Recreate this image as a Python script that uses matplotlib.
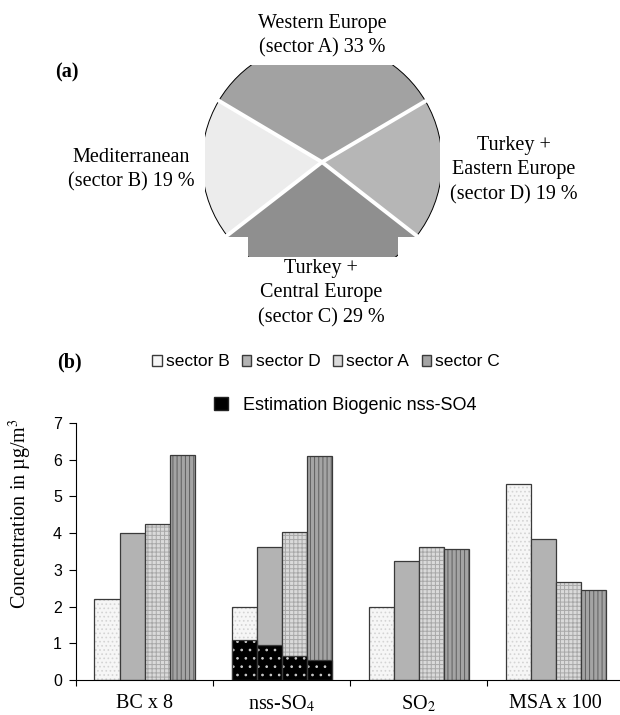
import numpy as np
import matplotlib
matplotlib.use('Agg')
import matplotlib.pyplot as plt
from matplotlib.patches import Patch, Rectangle

# pie (a): air mass sectors
pie_labels = ['Western Europe\n(sector A) 33 %',
              'Mediterranean\n(sector B) 19 %',
              'Turkey +\nCentral Europe\n(sector C) 29 %',
              'Turkey +\nEastern Europe\n(sector D) 19 %']
pie_shares = [33, 19, 29, 19]
pie_colors = ['#a2a2a2', '#ececec', '#8f8f8f', '#b6b6b6']

# bars (b): concentrations per sector
categories = ['BC x 8', 'nss-SO$_4$', 'SO$_2$', 'MSA x 100']
sector_b = [2.20, 2.00, 2.00, 5.33]
sector_d = [4.00, 3.62, 3.24, 3.85]
sector_a = [4.24, 4.04, 3.62, 2.67]
sector_c = [6.12, 6.10, 3.56, 2.45]
biogenic = [1.09, 0.94, 0.65, 0.55]   # nss-SO4 only, order B D A C

plt.rcParams['font.family'] = 'Liberation Serif'
plt.rcParams['mathtext.fontset'] = 'stix'
plt.rcParams['hatch.linewidth'] = 0.7

W, H = 620, 715
fig = plt.figure(figsize=(W / 100, H / 100), dpi=100)


def box(x0, y0, x1, y1):
    # pixel box (from top left) -> figure fraction rect
    return [x0 / W, 1 - y1 / H, (x1 - x0) / W, (y1 - y0) / H]


# ---- (a) pie ----
# axes box is the visible window of the pie (radius 1 = 120 px, centre 322,162)
ax_pie = fig.add_axes(box(205, 65, 440, 257))
wedges, _ = ax_pie.pie(pie_shares, colors=pie_colors, startangle=30.5,
                       counterclock=True,
                       wedgeprops=dict(edgecolor='black', linewidth=0.7))
for w in wedges:
    w.set_clip_on(True)
ax_pie.set_aspect('auto')
ax_pie.set_xlim(-0.975, 0.983)
ax_pie.set_ylim(-0.79, 0.808)
ax_pie.axis('off')

angles = np.deg2rad(30.5 + 3.6 * np.cumsum([0] + pie_shares[:-1]))
for a in angles:
    ax_pie.plot([0, 1.05 * np.cos(a)], [0, 1.05 * np.sin(a)],
                color='white', lw=2.8, solid_capstyle='butt')

# white corners under the bottom wedge
for x0, x1 in [(-1.0, -0.617), (0.633, 1.0)]:
    ax_pie.add_patch(Rectangle((x0, -1.0), x1 - x0, 0.375,
                               facecolor='white', edgecolor='none', zorder=5))

label_pos = [(322, 36), (131, 170), (321, 293), (514, 170)]
for (lx, ly), s in zip(label_pos, pie_labels):
    fig.text(lx / W, 1 - ly / H, s, ha='center', va='center',
             fontsize=14.5, linespacing=1.38)

fig.text(67 / W, 1 - 72 / H, '(a)', fontsize=14.5, fontweight='bold',
         ha='center', va='center')

# ---- (b) bars ----
ax = fig.add_axes(box(76, 423, 620, 680))
x = np.arange(len(categories))
bw = 0.1825
series = [(sector_b, '#f6f6f6', '....', '#d4d4d4'),
          (sector_d, '#b3b3b3', None, '#b3b3b3'),
          (sector_a, '#dadada', '++++', '#a8a8a8'),
          (sector_c, '#a4a4a4', '||||', '#5e5e5e')]
for i, (vals, face, hatch, hcol) in enumerate(series):
    pos = x + (i - 1.5) * bw
    ax.bar(pos, vals, bw, color=face, edgecolor=hcol, hatch=hatch, linewidth=0)
    ax.bar(pos, vals, bw, fill=False, edgecolor='#3a3a3a', linewidth=0.9)

pos = 1 + (np.arange(4) - 1.5) * bw
ax.bar(pos, biogenic, bw, color='black', edgecolor='#cccccc', hatch='..', linewidth=0)
ax.bar(pos, biogenic, bw, fill=False, edgecolor='#3a3a3a', linewidth=0.9)

ax.set_xlim(-0.5, 3.47)
ax.set_ylim(0, 7)
for sp in ['top', 'right']:
    ax.spines[sp].set_visible(False)
ax.set_yticks(range(8))
ax.tick_params(axis='y', length=5, pad=5, labelsize=11.5)
for t in ax.get_yticklabels():
    t.set_family('Liberation Sans')
ax.set_xticks([-0.5, 0.5, 1.5, 2.5])
ax.set_xticklabels([])
ax.tick_params(axis='x', which='major', length=4)
ax.set_xticks(x, minor=True)
ax.set_xticklabels(categories, minor=True, fontsize=14.5)
ax.tick_params(axis='x', which='minor', length=0, pad=10)

fig.text(20 / W, 1 - 513 / H, 'Concentration in µg/m$^3$', rotation=90,
         ha='center', va='center', fontsize=14.5)
fig.text(69 / W, 1 - 362 / H, '(b)', fontsize=14.5, fontweight='bold',
         ha='center', va='center')

handles = [Patch(facecolor=s[1], edgecolor='#3a3a3a') for s in series]
fig.legend(handles, ['sector B', 'sector D', 'sector A', 'sector C'],
           ncol=4, loc='center left', bbox_to_anchor=(152 / W, 1 - 362 / H),
           frameon=False, borderpad=0, borderaxespad=0,
           handlelength=0.55, handleheight=0.55, handletextpad=0.25,
           columnspacing=0.7, prop={'family': 'Liberation Sans', 'size': 12.5})
fig.legend([Patch(facecolor='black', edgecolor='#222222')],
           ['Estimation Biogenic nss-SO4'],
           loc='center left', bbox_to_anchor=(214 / W, 1 - 405 / H),
           frameon=False, borderpad=0, borderaxespad=0,
           handlelength=0.75, handleheight=0.75, handletextpad=0.85,
           prop={'family': 'Liberation Sans', 'size': 13})

fig.savefig('out.png', dpi=100)
